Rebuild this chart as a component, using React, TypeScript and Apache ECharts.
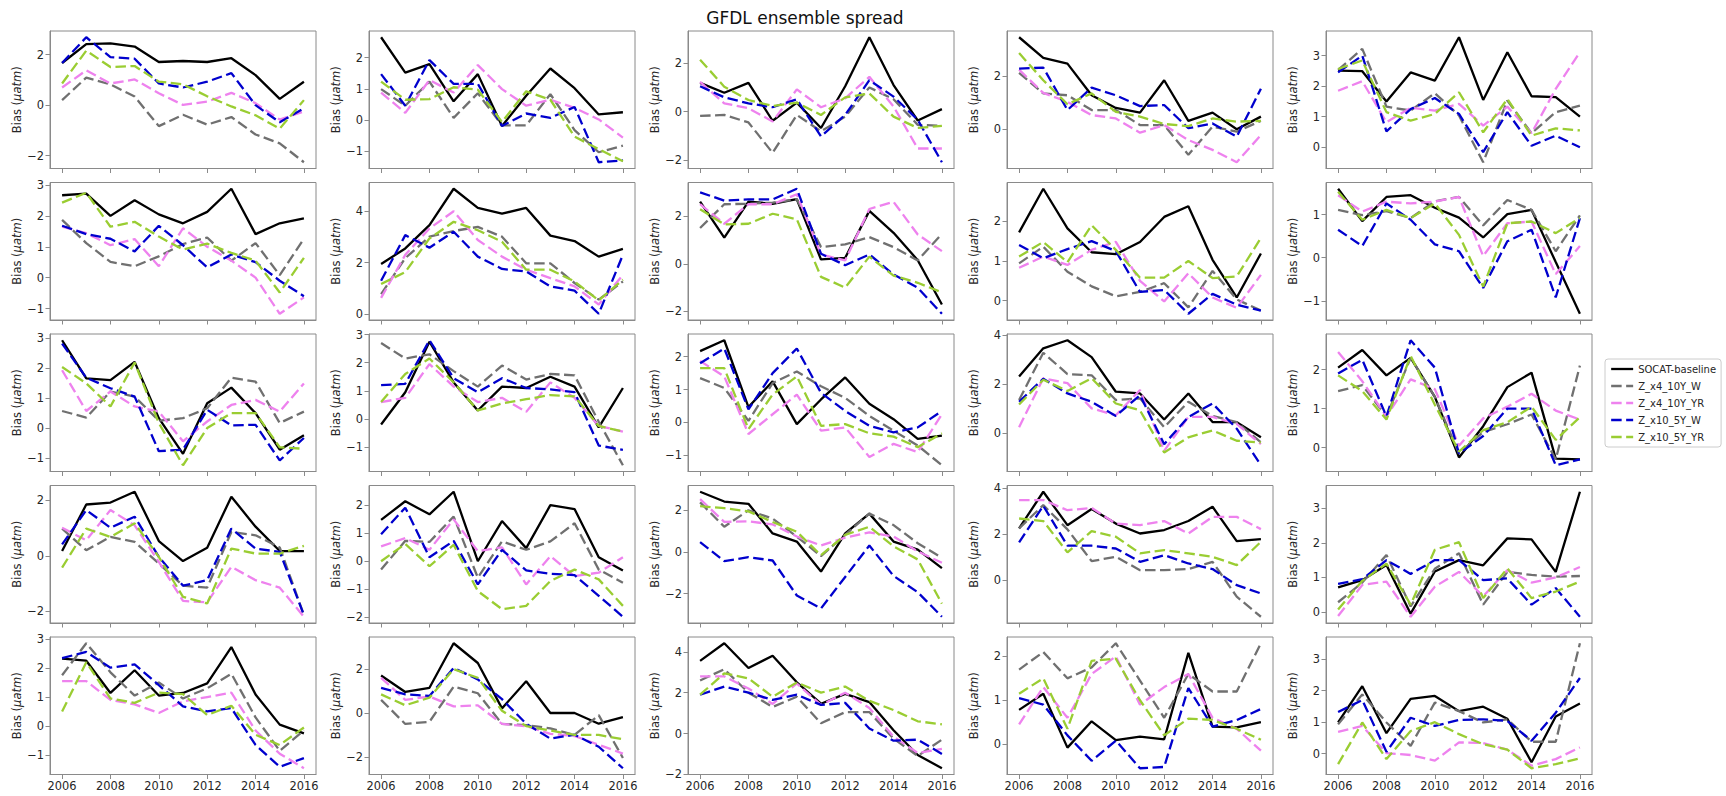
import React, { useEffect, useRef } from "react";
import * as echarts from "echarts";

// ---------- DATA ----------
const years = [2006, 2007, 2008, 2009, 2010, 2011, 2012, 2013, 2014, 2015, 2016];
const xTickYears = [2006, 2008, 2010, 2012, 2014, 2016];
const chartTitle = "GFDL ensemble spread";
const seriesNames = ["SOCAT-baseline", "Z_x4_10Y_W", "Z_x4_10Y_YR", "Z_x10_5Y_W", "Z_x10_5Y_YR"];

// one row per panel (row-major, 5 x 5), one value per year
const socatBaseline = [
  [1.67, 2.42, 2.45, 2.32, 1.71, 1.75, 1.71, 1.86, 1.19, 0.25, 0.93],
  [2.65, 1.52, 1.79, 0.6, 1.47, -0.19, 0.78, 1.65, 1.02, 0.18, 0.25],
  [1.19, 0.78, 1.19, -0.38, 0.37, -0.68, 1.05, 3.08, 1.1, -0.37, 0.1],
  [3.48, 2.7, 2.48, 1.28, 0.8, 0.62, 1.85, 0.31, 0.62, -0.01, 0.47],
  [2.51, 2.49, 1.5, 2.45, 2.18, 3.6, 1.55, 3.11, 1.67, 1.64, 1.0],
  [2.67, 2.72, 2.0, 2.51, 2.05, 1.76, 2.13, 2.88, 1.41, 1.76, 1.92],
  [1.94, 2.55, 3.46, 4.88, 4.13, 3.91, 4.13, 3.05, 2.84, 2.23, 2.53],
  [2.61, 1.1, 2.61, 2.52, 2.71, 0.18, 0.25, 2.22, 1.3, 0.15, -1.71],
  [1.72, 2.82, 1.82, 1.22, 1.17, 1.48, 2.11, 2.38, 1.03, 0.08, 1.19],
  [1.6, 0.85, 1.41, 1.45, 1.16, 0.93, 0.47, 1.01, 1.11, -0.1, -1.3],
  [2.93, 1.66, 1.6, 2.21, 0.33, -0.86, 0.83, 1.35, 0.5, -0.72, -0.24],
  [-0.2, 0.95, 2.75, 1.3, 0.3, 1.15, 1.1, 1.5, 1.15, -0.3, 1.1],
  [2.17, 2.5, 0.47, 1.25, -0.05, 0.7, 1.37, 0.57, 0.1, -0.5, -0.4],
  [2.3, 3.45, 3.78, 3.09, 1.68, 1.61, 0.55, 1.61, 0.44, 0.44, -0.18],
  [2.05, 2.5, 1.85, 2.3, 1.3, -0.25, 0.55, 1.55, 1.92, -0.28, -0.3],
  [0.17, 1.85, 1.92, 2.31, 0.53, -0.19, 0.29, 2.13, 1.05, 0.17, 0.17],
  [1.48, 2.15, 1.68, 2.49, 0.0, 1.44, 0.47, 2.01, 1.87, 0.14, -0.33],
  [2.89, 2.42, 2.31, 0.89, 0.5, -0.94, 0.89, 1.84, 0.5, 0.11, -0.78],
  [2.24, 3.83, 2.38, 3.08, 2.45, 2.02, 2.17, 2.56, 3.18, 1.69, 1.78],
  [0.71, 0.92, 1.36, -0.05, 1.17, 1.5, 1.35, 2.13, 2.1, 1.16, 3.48],
  [2.32, 2.25, 1.14, 1.92, 1.05, 1.14, 1.47, 2.72, 1.09, 0.05, -0.25],
  [1.71, 0.96, 1.15, 3.18, 2.28, 0.21, 1.45, 0.0, 0.0, -0.49, -0.19],
  [3.56, 4.42, 3.21, 3.81, 2.51, 1.46, 1.94, 1.54, 0.16, -1.05, -1.7],
  [0.78, 1.15, -0.08, 0.52, 0.09, 0.17, 0.11, 2.08, 0.4, 0.38, 0.5],
  [0.99, 2.14, 0.65, 1.74, 1.83, 1.35, 1.49, 1.11, -0.27, 1.18, 1.59],
];
const zx4_10Y_W = [
  [0.2, 1.09, 0.82, 0.34, -0.83, -0.38, -0.77, -0.47, -1.16, -1.51, -2.26],
  [0.99, 0.46, 1.23, 0.07, 0.86, -0.17, -0.17, 0.83, -0.32, -1.03, -0.82],
  [-0.18, -0.14, -0.45, -1.71, -0.14, -0.82, -0.21, 1.0, 0.51, -0.55, -0.59],
  [2.13, 1.35, 1.28, 0.72, 0.72, 0.15, 0.15, -0.98, 0.09, -0.1, 0.31],
  [2.53, 3.22, 1.33, 1.2, 1.77, 1.04, -0.49, 1.53, 0.46, 1.15, 1.36],
  [1.87, 1.12, 0.51, 0.37, 0.69, 1.09, 1.3, 0.55, 1.12, 0.08, 1.26],
  [0.77, 2.17, 3.01, 3.23, 3.39, 3.01, 1.97, 1.97, 1.2, 0.55, 1.26],
  [1.5, 2.5, 2.52, 2.57, 2.71, 0.7, 0.81, 1.12, 0.7, 0.14, 1.26],
  [0.94, 1.36, 0.73, 0.36, 0.11, 0.22, 0.44, -0.17, 0.75, 0.03, -0.25],
  [1.11, 0.99, 1.08, 0.92, 1.31, 1.41, 0.75, 1.34, 1.11, 0.15, 0.98],
  [0.57, 0.35, 1.22, 1.05, 0.25, 0.33, 0.66, 1.68, 1.55, 0.17, 0.55],
  [2.7, 2.15, 2.3, 1.7, 1.15, 1.9, 1.4, 1.6, 1.55, -0.1, -1.65],
  [1.35, 1.05, 0.05, 1.2, 1.55, 1.1, 0.75, 0.2, -0.25, -0.7, -1.3],
  [1.34, 3.27, 2.4, 2.35, 1.34, 1.41, 0.23, 1.27, 0.69, 0.44, -0.39],
  [1.45, 1.6, 0.8, 2.3, 1.3, -0.15, 0.4, 0.6, 0.85, -0.3, 2.1],
  [0.98, 0.2, 0.68, 0.5, -0.28, -1.08, -1.15, 0.86, 0.74, 0.3, -2.14],
  [-0.3, 0.73, 0.69, 1.6, -0.59, 0.71, 0.41, 0.71, 1.36, -0.3, -0.77],
  [2.38, 1.21, 2.0, 1.6, 0.74, -0.2, 0.82, 1.84, 1.29, 0.42, -0.28],
  [2.24, 3.25, 2.2, 0.82, 1.01, 0.43, 0.43, 0.48, 0.79, -0.72, -1.59],
  [0.28, 0.85, 1.65, 0.16, 1.25, 1.7, 0.21, 1.16, 1.07, 1.02, 1.04],
  [1.75, 2.85, 1.85, 1.05, 1.5, 0.95, 1.3, 1.8, 0.3, -0.85, -0.15],
  [0.6, -0.5, -0.4, 1.2, 0.9, -0.5, -0.55, -0.7, -1.0, -0.1, -2.05],
  [2.6, 3.15, 2.0, 1.3, 1.8, 0.5, 1.05, 1.05, -0.25, -1.1, -0.3],
  [1.7, 2.1, 1.5, 1.75, 2.3, 1.45, 0.6, 1.6, 1.2, 1.2, 2.3],
  [0.93, 1.88, 0.99, 0.25, 1.62, 1.35, 0.99, 1.09, 0.38, 0.38, 3.5],
];
const zx4_10Y_YR = [
  [0.7, 1.38, 0.86, 1.02, 0.47, 0.01, 0.14, 0.49, 0.08, -0.57, -0.25],
  [0.88, 0.23, 1.28, 0.88, 1.76, 0.99, 0.46, 0.65, 0.39, 0.02, -0.56],
  [1.23, 0.34, 0.14, -0.41, 0.92, 0.18, 0.55, 1.44, 0.21, -1.53, -1.53],
  [2.25, 1.37, 1.03, 0.53, 0.4, -0.14, 0.15, -0.42, -0.79, -1.26, -0.23],
  [1.85, 2.16, 0.82, 1.29, 1.2, 1.42, 0.71, 1.33, 0.46, 1.91, 3.11],
  [1.65, 1.44, 1.05, 1.25, 0.37, 1.6, 1.0, 0.55, 0.0, -1.17, -0.64],
  [0.62, 2.3, 3.33, 4.0, 2.88, 2.23, 1.72, 1.39, 1.07, 0.36, 1.52],
  [2.5, 1.68, 2.5, 2.5, 2.92, 0.39, 0.14, 2.3, 2.6, 1.23, 0.53],
  [0.83, 1.11, 0.9, 1.28, 1.48, 0.5, -0.02, 0.69, 0.08, -0.18, 0.65],
  [1.45, 1.07, 1.3, 1.26, 1.3, 1.41, 0.04, 0.8, 0.84, -0.38, 0.27],
  [1.93, 0.57, 1.22, 0.72, 0.55, -0.44, 0.22, 0.77, 0.94, 0.55, 1.49],
  [0.6, 0.75, 1.95, 1.15, 0.6, 0.75, 0.25, 1.3, 0.75, -0.25, -0.45],
  [1.87, 1.4, -0.35, 0.25, 0.85, -0.25, -0.15, -1.05, -0.65, -0.9, 0.25],
  [0.23, 2.23, 2.03, 1.0, 0.72, 1.75, -0.73, 0.65, 0.65, 0.37, -0.46],
  [2.45, 1.7, 0.8, 1.75, 1.5, 0.05, 0.75, 1.05, 1.38, 0.95, 0.72],
  [1.01, 0.56, 1.65, 1.1, -0.22, -1.63, -1.68, -0.4, -0.88, -1.15, -2.2],
  [0.53, 0.83, 0.41, 1.5, 0.36, 0.5, -0.83, 0.18, -0.53, -0.41, 0.14],
  [2.54, 1.44, 1.47, 1.32, 0.74, 0.31, 0.69, 0.94, 0.74, 0.03, -0.52],
  [3.47, 3.47, 3.03, 3.13, 2.45, 2.38, 2.56, 2.02, 2.74, 2.74, 2.21],
  [-0.12, 0.78, 0.88, -0.14, 0.73, 1.16, 0.45, 1.21, 0.85, 1.0, 1.3],
  [1.55, 1.55, 0.9, 0.75, 0.45, 0.85, 1.0, 1.15, -0.15, -0.95, -1.45],
  [1.6, 0.6, 0.75, 0.3, 0.35, -0.5, -0.6, -0.95, -1.05, -1.45, -1.85],
  [2.8, 2.8, 2.2, 1.45, 2.45, 1.4, 2.0, 1.25, -0.15, -0.95, -0.75],
  [0.45, 1.3, 0.6, 1.6, 2.0, 0.9, 1.3, 1.6, 0.6, 0.35, -0.15],
  [0.69, 0.88, 0.02, -0.04, -0.22, 0.36, 0.34, 0.13, -0.38, -0.17, 0.2],
];
const zx10_5Y_W = [
  [1.67, 2.69, 1.9, 1.84, 0.86, 0.7, 0.93, 1.27, 0.0, -0.68, -0.12],
  [1.47, 0.46, 1.92, 1.16, 1.16, -0.19, 0.21, 0.07, 0.42, -1.35, -1.29],
  [1.05, 0.59, 0.34, 0.18, 0.51, -1.03, -0.14, 1.3, 0.62, -0.34, -2.1],
  [2.29, 2.33, 0.72, 1.57, 1.28, 0.87, 0.91, 0.03, 0.21, -0.29, 1.53],
  [2.45, 3.0, 0.52, 1.25, 1.61, 1.09, -0.16, 1.15, 0.05, 0.38, 0.0],
  [1.68, 1.41, 1.26, 0.85, 1.68, 1.05, 0.33, 0.75, 0.5, -0.1, -0.6],
  [1.29, 3.07, 2.58, 3.2, 2.23, 1.75, 1.65, 1.07, 0.9, 0.0, 2.3],
  [3.0, 2.65, 2.7, 2.7, 3.15, 0.42, -0.06, 0.39, -0.45, -1.01, -2.1],
  [1.4, 1.07, 1.3, 1.5, 1.25, 0.22, 0.27, -0.33, 0.17, -0.1, -0.25],
  [0.65, 0.27, 1.26, 0.88, 0.31, 0.15, -0.7, 0.38, 0.65, -0.92, 0.92],
  [2.82, 1.68, 1.33, 1.05, -0.77, -0.72, 0.61, 0.09, 0.11, -1.08, -0.33],
  [1.2, 1.25, 2.8, 1.45, 0.95, 1.45, 1.1, 1.05, 0.95, -0.95, -1.1],
  [1.8, 2.25, 0.4, 1.5, 2.25, 0.9, 0.35, -0.1, -0.3, -0.15, 0.35],
  [1.27, 2.21, 1.61, 1.27, 0.69, 1.54, -0.46, 0.65, 1.2, 0.17, -1.32],
  [1.9, 2.25, 0.8, 2.75, 2.05, -0.15, 0.3, 1.0, 1.0, -0.45, -0.3],
  [0.41, 1.65, 1.01, 1.41, -0.04, -1.08, -0.88, 0.98, 0.26, 0.14, -2.14],
  [0.97, 1.92, 0.14, 0.73, -0.83, 0.41, -0.33, -0.45, -0.5, -1.24, -1.99],
  [0.47, -0.44, -0.25, -0.41, -2.09, -2.71, -1.2, 0.31, -1.15, -1.93, -3.11],
  [1.63, 3.22, 1.49, 1.49, 1.37, 0.79, 1.08, 0.72, 0.48, -0.22, -0.58],
  [0.81, 0.95, 1.5, 1.1, 1.5, 1.5, 0.92, 0.97, 0.21, 0.69, -0.14],
  [2.34, 2.55, 2.01, 2.12, 1.41, 0.68, 0.51, 0.62, -0.65, -1.4, -1.1],
  [1.15, 0.85, 0.78, 2.05, 1.53, 0.63, -0.49, -1.17, -0.99, -1.54, -2.52],
  [1.9, 2.3, 2.0, 1.65, 1.9, 1.4, 1.5, 0.25, -0.35, -0.3, -1.0],
  [1.05, 0.9, 0.2, -0.38, 0.08, -0.55, -0.52, 1.28, 0.4, 0.55, 0.8],
  [1.32, 1.7, 0.06, 1.14, 0.88, 1.07, 1.09, 1.04, 0.41, 1.3, 2.4],
];
const zx10_5Y_YR = [
  [0.86, 2.16, 1.51, 1.55, 0.93, 0.83, 0.35, -0.05, -0.4, -0.93, 0.2],
  [1.23, 0.65, 0.67, 1.05, 0.97, -0.06, 0.92, 0.65, -0.53, -0.93, -1.32],
  [2.15, 1.03, 0.48, 0.23, 0.37, -0.14, 0.59, 0.75, -0.21, -0.68, -0.59],
  [2.88, 1.85, 0.94, 1.35, 0.65, 0.47, 0.19, 0.11, 0.4, 0.28, 0.31],
  [2.56, 2.84, 1.15, 0.87, 1.09, 1.8, 0.49, 1.58, 0.38, 0.62, 0.55],
  [2.43, 2.75, 1.65, 1.81, 1.33, 0.91, 1.1, 0.8, 0.55, -0.48, 0.64],
  [1.16, 1.63, 2.94, 3.59, 3.26, 2.81, 1.72, 1.72, 1.26, 0.52, 1.33],
  [2.29, 1.65, 1.68, 2.1, 1.87, -0.55, -1.0, 0.3, -0.5, -0.8, -1.2],
  [1.11, 1.48, 0.97, 1.9, 1.28, 0.58, 0.58, 1.0, 0.57, 0.61, 1.58],
  [1.53, 0.88, 1.11, 0.92, 1.26, 0.53, -0.67, 0.8, 0.84, 0.57, 0.92],
  [2.04, 1.49, 0.72, 2.19, 0.17, -1.24, 0.0, 0.5, 0.5, -0.64, -0.69],
  [0.6, 1.6, 2.15, 1.3, 0.3, 0.55, 0.7, 0.85, 0.8, -0.25, -0.45],
  [1.65, 1.65, -0.2, 0.85, 1.4, -0.1, -0.05, -0.33, -0.43, -0.75, -0.33],
  [1.16, 2.17, 1.71, 2.23, 1.2, 0.92, -0.8, -0.18, 0.1, -0.32, -0.39],
  [1.85, 1.45, 0.72, 2.35, 1.1, -0.1, 0.45, 0.65, 1.05, 0.2, 0.78],
  [-0.43, 0.98, 0.68, 1.17, -0.04, -1.48, -1.72, 0.26, 0.08, 0.08, 0.36],
  [0.0, 0.62, -0.18, 0.59, -1.07, -1.72, -1.6, -0.71, -0.3, -0.65, -1.6],
  [2.2, 2.1, 1.95, 1.44, 0.97, -0.16, 0.82, 1.21, 0.27, -0.36, -2.48],
  [2.67, 2.56, 1.2, 2.12, 1.88, 1.16, 1.3, 1.16, 1.01, 0.65, 1.66],
  [0.07, 0.9, 1.4, 0.21, 1.8, 2.02, 0.4, 1.26, 0.4, 0.59, 0.88],
  [0.5, 2.2, 0.95, 0.8, 1.15, 1.1, 0.38, 0.7, -0.3, -0.65, -0.05],
  [0.85, 0.35, 0.7, 2.0, 1.6, 0.1, -0.6, -0.8, -1.0, -1.0, -1.2],
  [1.9, 2.95, 2.7, 1.8, 2.5, 2.0, 2.3, 1.6, 1.15, 0.6, 0.45],
  [1.15, 1.5, 0.35, 1.9, 1.95, 1.0, 0.2, 0.58, 0.55, 0.35, 0.1],
  [-0.33, 0.99, -0.17, 0.72, 1.0, 0.62, 0.3, 0.13, -0.46, -0.33, -0.15],
];
// y tick spacing per panel (row-major)
const yTickSteps = [2, 1, 2, 2, 1, 1, 2, 2, 1, 1, 1, 1, 1, 2, 1, 2, 1, 2, 2, 1, 1, 2, 2, 1, 1];

// ---------- STYLE / LAYOUT ----------
const FIG_W = 1726;
const FIG_H = 796;
const COL_LEFT = [50, 369, 688, 1007, 1326];
const ROW_TOP = [31, 182.5, 334, 485.5, 637];
const PANEL_W = 266;
const PANEL_H = 137.5;
const FONT = '"DejaVu Sans", "Noto Sans", sans-serif';
const FRAME = "#8a8a8a";
const TEXT = "#262626";
const COLORS = ["#000000", "#707070", "#ee82ee", "#0000cd", "#9acd32"];
const DASH = [10.5, 4.5];

const fmtY = (v: number) => {
  const r = Math.round(v * 1000) / 1000;
  return r < 0 ? "\u2212" + String(Math.abs(r)) : String(r);
};

function buildOption() {
  const all = [socatBaseline, zx4_10Y_W, zx4_10Y_YR, zx10_5Y_W, zx10_5Y_YR];
  const grid: any[] = [];
  const xAxis: any[] = [];
  const yAxis: any[] = [];
  const series: any[] = [];
  for (let p = 0; p < 25; p++) {
    const r = Math.floor(p / 5);
    const c = p % 5;
    grid.push({
      left: COL_LEFT[c],
      top: ROW_TOP[r],
      width: PANEL_W,
      height: PANEL_H,
      containLabel: false,
      outerBoundsMode: "none",
      show: true,
      borderColor: FRAME,
      borderWidth: 1,
      backgroundColor: "transparent",
    });
    const vals = all.flatMap((s) => s[p]);
    const lo = Math.min(...vals);
    const hi = Math.max(...vals);
    const pad = (hi - lo) * 0.05;
    const yMin = lo - pad;
    const yMax = hi + pad;
    const step = yTickSteps[p];
    const ticks: number[] = [];
    for (let t = Math.ceil(yMin / step) * step; t <= yMax + 1e-9; t += step) ticks.push(Math.round(t * 1000) / 1000);

    xAxis.push({
      type: "value",
      gridIndex: p,
      min: 2005.5,
      max: 2016.5,
      splitLine: { show: false },
      axisLine: { show: true, onZero: false, lineStyle: { color: FRAME, width: 1 } },
      axisTick: { show: true, customValues: xTickYears, length: 4.5, lineStyle: { color: FRAME, width: 1 } },
      axisLabel: {
        show: r === 4,
        customValues: xTickYears,
        formatter: (v: number) => String(v),
        margin: 6,
        fontSize: 11.4,
        fontFamily: FONT,
        color: TEXT,
      },
    });
    yAxis.push({
      type: "value",
      gridIndex: p,
      min: yMin,
      max: yMax,
      name: "Bias ({m|\u03bcatm})",
      nameLocation: "middle",
      nameGap: 27,
      nameTextStyle: {
        fontSize: 11.5,
        fontFamily: FONT,
        color: TEXT,
        rich: { m: { fontSize: 11.5, fontFamily: FONT, fontStyle: "italic", color: TEXT } },
      },
      splitLine: { show: false },
      axisLine: { show: true, onZero: false, lineStyle: { color: FRAME, width: 1 } },
      axisTick: { show: true, customValues: ticks, length: 4.5, lineStyle: { color: FRAME, width: 1 } },
      axisLabel: {
        customValues: ticks,
        formatter: fmtY,
        margin: 6,
        fontSize: 11.4,
        fontFamily: FONT,
        color: TEXT,
      },
    });
    all.forEach((s, k) => {
      series.push({
        type: "line",
        name: seriesNames[k],
        xAxisIndex: p,
        yAxisIndex: p,
        data: years.map((y, i) => [y, s[p][i]]),
        symbol: "none",
        showSymbol: false,
        silent: true,
        lineStyle: { color: COLORS[k], width: 2.3, type: k === 0 ? "solid" : DASH },
        itemStyle: { color: COLORS[k] },
      });
    });
  }
  return {
    animation: false,
    backgroundColor: "#ffffff",
    grid,
    xAxis,
    yAxis,
    series,
    legend: {
      data: seriesNames,
      orient: "vertical",
      left: 1605,
      top: 359,
      itemWidth: 22,
      itemHeight: 12,
      itemGap: 7,
      padding: [5, 5, 5, 5],
      borderColor: "#cccccc",
      borderWidth: 1,
      borderRadius: 3,
      backgroundColor: "#ffffff",
      selectedMode: false,
      itemStyle: { opacity: 0 },
      lineStyle: { width: 2.3 },
      textStyle: { fontSize: 10, fontFamily: FONT, color: TEXT },
    },
    graphic: [
      {
        type: "text",
        x: 805,
        y: 18,
        style: {
          text: chartTitle,
          fontSize: 17,
          fontFamily: FONT,
          fill: "#111111",
          align: "center",
          verticalAlign: "middle",
        },
      },
    ],
  };
}

export default function App() {
  const ref = useRef<HTMLDivElement>(null);
  useEffect(() => {
    if (!ref.current) return;
    const chart = echarts.init(ref.current, undefined, { renderer: "svg" });
    chart.setOption(buildOption() as any);
    return () => chart.dispose();
  }, []);
  return (
    <div
      ref={ref}
      style={{ position: "fixed", left: 0, top: 0, width: FIG_W, height: FIG_H, background: "#fff" }}
    />
  );
}
